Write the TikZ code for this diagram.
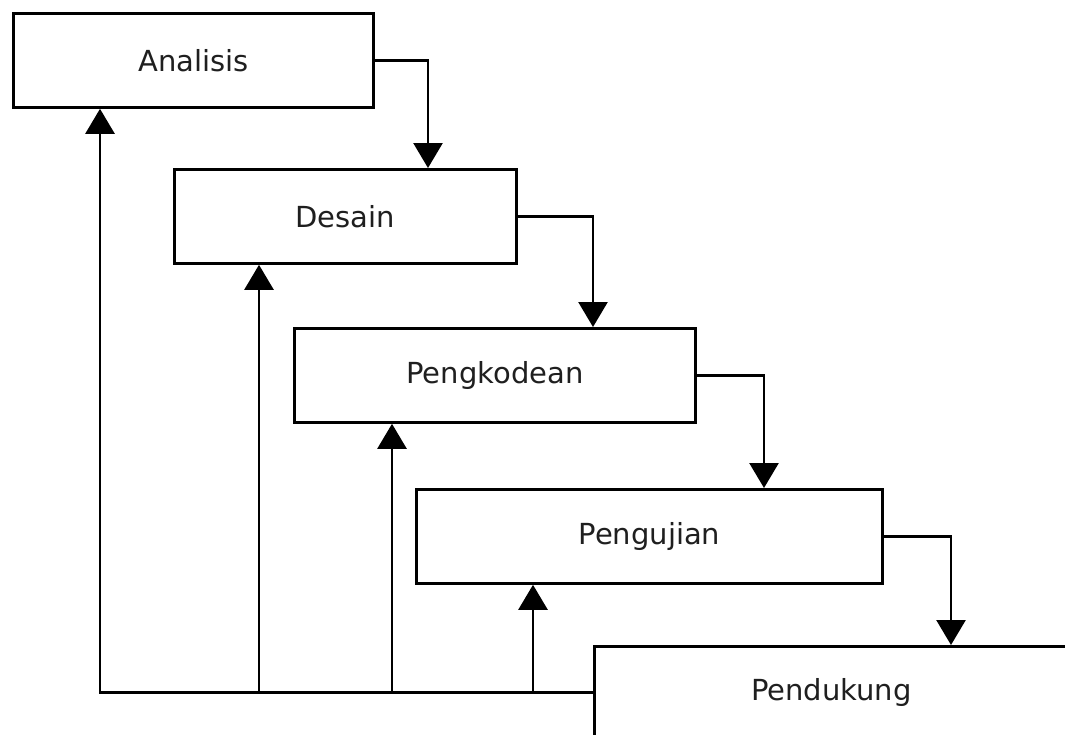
\documentclass[tikz,border=0pt]{standalone}
\usepackage{fontspec}
\setmainfont{DejaVu Sans}
\usetikzlibrary{arrows.meta}
\begin{document}
\begin{tikzpicture}[x=1pt,y=-1pt,
  stage/.style={draw=black,line width=2.8pt,rectangle,anchor=north west,inner sep=0pt,
    font=\fontsize{29}{34}\selectfont,text=black!88},
  arr/.style={line width=2.6pt,-{Triangle[width=29pt,length=25pt]}}]
\useasboundingbox (0,0) rectangle (1065,734);
\clip (0,0) rectangle (1065,734);
\node[stage,minimum width=360pt,minimum height=94pt] (ana) at (12,12) {Analisis};
\node[stage,minimum width=342pt,minimum height=94pt] (des) at (173,168) {Desain};
\node[stage,minimum width=401pt,minimum height=94pt] (kod) at (293,327) {Pengkodean};
\node[stage,minimum width=466pt,minimum height=94pt] (uji) at (415,488) {Pengujian};
\node[stage,minimum width=474pt,minimum height=92pt] (dukung) at (593,645) {\raisebox{-2pt}{Pendukung}};
% forward flow
\coordinate (d1) at (428,0);
\coordinate (d2) at (593,0);
\coordinate (d3) at (764,0);
\coordinate (d4) at (951,0);
\draw[arr] (ana.east) -| (d1 |- des.north);
\draw[arr] (des.east) -| (d2 |- kod.north);
\draw[arr] (kod.east) -| (d3 |- uji.north);
\draw[arr] (uji.east) -| (d4 |- dukung.north);
% feedback
\coordinate (f1) at (100,0);
\coordinate (f2) at (259,0);
\coordinate (f3) at (392,0);
\coordinate (f4) at (533,0);
\draw[arr] (dukung.west) -| (f1 |- ana.south);
\draw[arr] (f2 |- dukung.west) -- (f2 |- des.south);
\draw[arr] (f3 |- dukung.west) -- (f3 |- kod.south);
\draw[arr] (f4 |- dukung.west) -- (f4 |- uji.south);
\end{tikzpicture}
\end{document}
